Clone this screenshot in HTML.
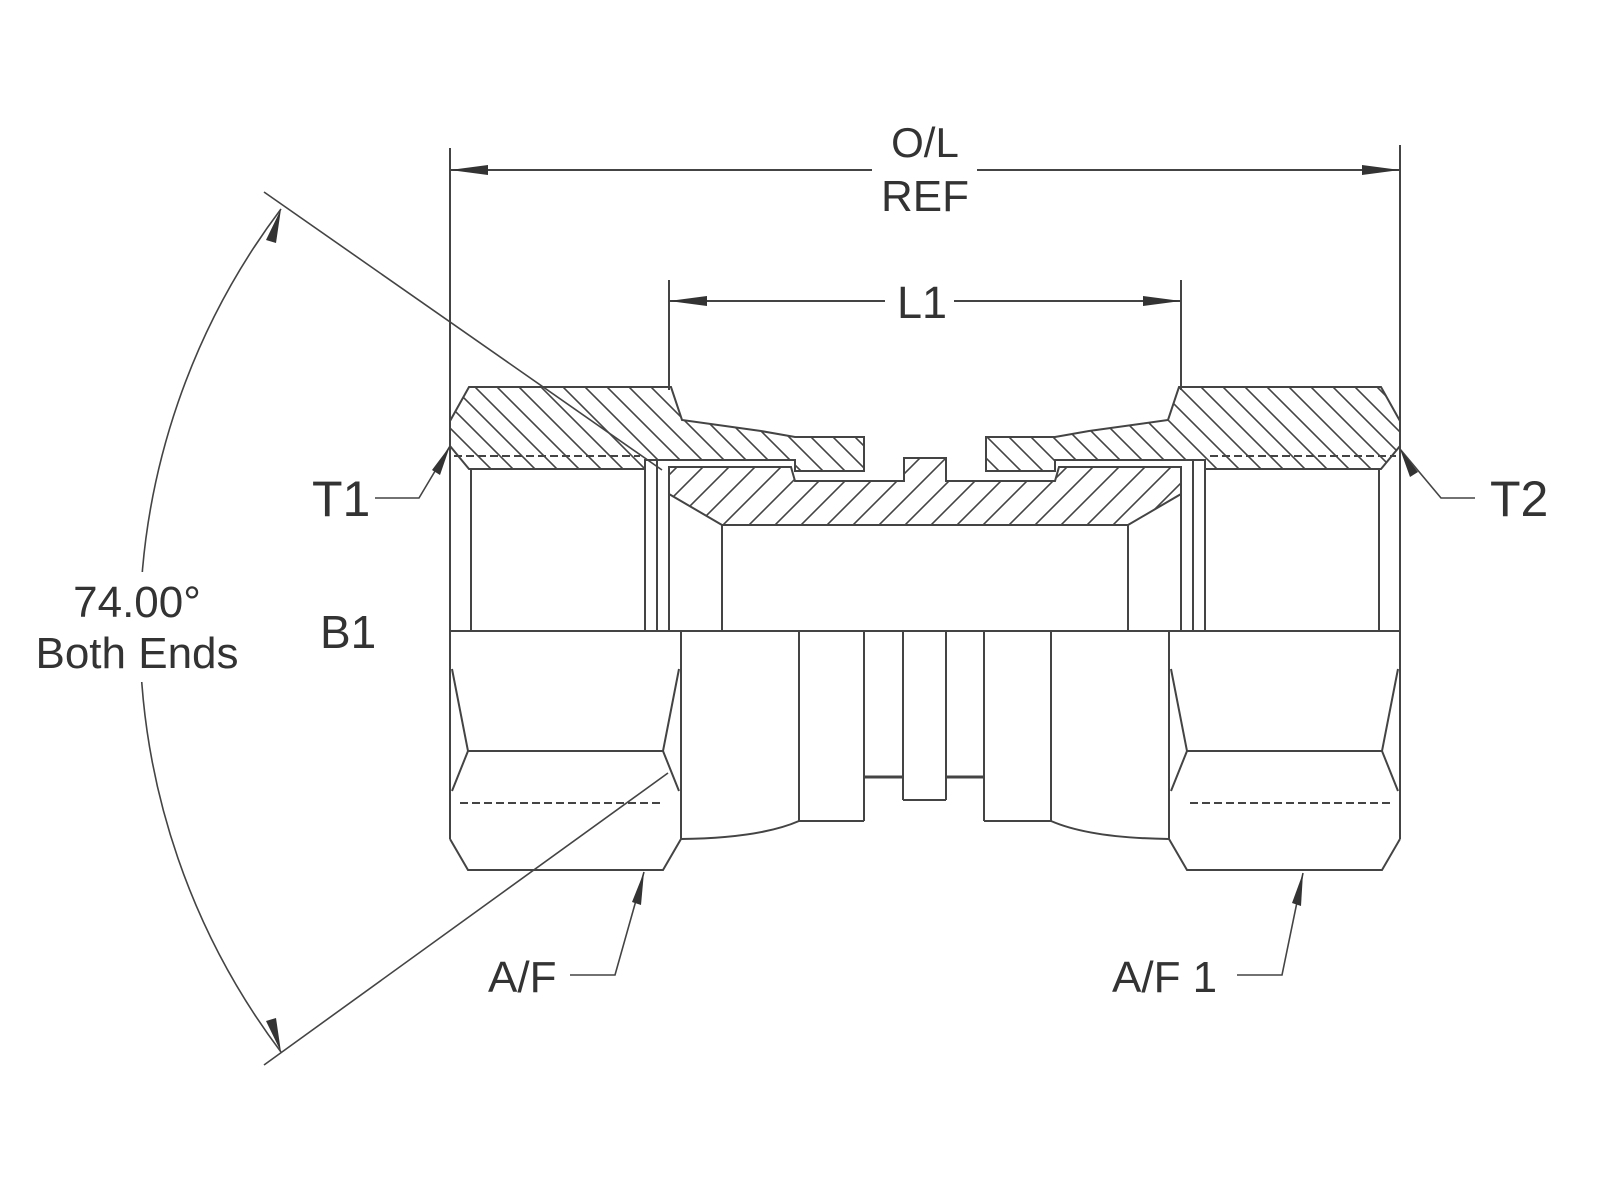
<!DOCTYPE html>
<html><head><meta charset="utf-8"><style>
html,body{margin:0;padding:0;background:#fff;}
svg{display:block;}
text{font-family:"Liberation Sans",sans-serif;fill:#333;}
</style></head><body>
<svg width="1600" height="1200" viewBox="0 0 1600 1200" xmlns="http://www.w3.org/2000/svg">
<defs>
<pattern id="hA" patternUnits="userSpaceOnUse" width="22" height="22">
<path d="M-5,-5 L27,27 M-5,17 L5,27 M17,-5 L27,5" stroke="#444" stroke-width="1.6"/>
</pattern>
<pattern id="hB" patternUnits="userSpaceOnUse" width="26" height="26">
<path d="M-5,31 L31,-5 M-5,5 L5,-5 M21,31 L31,21" stroke="#444" stroke-width="1.6"/>
</pattern>
</defs>
<rect width="1600" height="1200" fill="#fff"/>
<g stroke="#444" stroke-width="2" fill="none">

<!-- O/L dimension -->
<line x1="450" y1="148" x2="450" y2="632"/>
<line x1="1400" y1="145" x2="1400" y2="632"/>
<line x1="450" y1="170" x2="872" y2="170"/>
<line x1="977" y1="170" x2="1400" y2="170"/>
<!-- L1 -->
<line x1="669" y1="280" x2="669" y2="390"/>
<line x1="1181" y1="280" x2="1181" y2="390"/>
<line x1="669" y1="301" x2="885" y2="301"/>
<line x1="954" y1="301" x2="1181" y2="301"/>

<!-- top left nut/sleeve -->
<polygon fill="url(#hA)" points="450,421 469,387 671,387 682,420 761,431 795,437 864,437 864,471 795,471 795,460 645,460 645,469 469,469 450,446"/>
<!-- top right nut/sleeve mirrored -->
<polygon fill="url(#hA)" points="1400,421 1381,387 1179,387 1168,420 1089,431 1055,437 986,437 986,471 1055,471 1055,460 1205,460 1205,469 1381,469 1400,446"/>
<line x1="454" y1="456" x2="640" y2="456" stroke-dasharray="8,4"/>
<line x1="1210" y1="456" x2="1396" y2="456" stroke-dasharray="8,4"/>

<!-- body -->
<polygon fill="url(#hB)" points="669,467 791,467 795,481 904,481 904,458 946,458 946,481 1055,481 1059,467 1181,467 1181,494 1128,525 722,525 669,494"/>
<line x1="657" y1="460" x2="657" y2="632"/>
<line x1="1193" y1="460" x2="1193" y2="632"/>
<line x1="669" y1="467" x2="669" y2="632"/>
<line x1="1181" y1="467" x2="1181" y2="632"/>
<line x1="722" y1="525" x2="722" y2="632"/>
<line x1="1128" y1="525" x2="1128" y2="632"/>
<line x1="471" y1="469" x2="471" y2="632"/>
<line x1="645" y1="469" x2="645" y2="632"/>
<line x1="1379" y1="469" x2="1379" y2="632"/>
<line x1="1205" y1="469" x2="1205" y2="632"/>

<!-- centerline -->
<line x1="450" y1="631" x2="1400" y2="631"/>

<!-- lower left hex nut -->
<line x1="450" y1="631" x2="450" y2="839"/>
<line x1="681" y1="631" x2="681" y2="839"/>
<polyline points="452,669 468,751 452,791"/>
<polyline points="679,669 663,751 679,791"/>
<line x1="468" y1="751" x2="663" y2="751"/>
<line x1="460" y1="803" x2="660" y2="803" stroke-dasharray="8,4"/>
<polyline points="450,839 468,870 663,870 681,839"/>
<!-- lower right hex nut -->
<line x1="1400" y1="631" x2="1400" y2="839"/>
<line x1="1169" y1="631" x2="1169" y2="839"/>
<polyline points="1398,669 1382,751 1398,791"/>
<polyline points="1171,669 1187,751 1171,791"/>
<line x1="1382" y1="751" x2="1187" y2="751"/>
<line x1="1390" y1="803" x2="1190" y2="803" stroke-dasharray="8,4"/>
<polyline points="1400,839 1382,870 1187,870 1169,839"/>

<!-- lower body -->
<path d="M681,839 Q760,838 799,821 L864,821"/>
<path d="M1169,839 Q1090,838 1051,821 L984,821"/>
<line x1="799" y1="631" x2="799" y2="821"/>
<line x1="1051" y1="631" x2="1051" y2="821"/>
<line x1="864" y1="631" x2="864" y2="821"/>
<line x1="984" y1="631" x2="984" y2="821"/>
<line x1="903" y1="631" x2="903" y2="800"/>
<line x1="946" y1="631" x2="946" y2="800"/>
<line x1="903" y1="800" x2="946" y2="800"/>
<line x1="864" y1="777" x2="903" y2="777" stroke-width="3"/>
<line x1="946" y1="777" x2="984" y2="777" stroke-width="3"/>

<!-- angle lines -->
<line x1="264" y1="192" x2="662" y2="470" stroke-width="1.6"/>
<line x1="264" y1="1065" x2="668" y2="773" stroke-width="1.6"/>
<path d="M281,209 A700,700 0 0 0 281,1052" stroke-width="1.6"/>

<!-- leaders -->
<polyline points="375,498 419,498 450,446" stroke-width="1.6"/>
<polyline points="1475,498 1441,498 1400,449" stroke-width="1.6"/>
<polyline points="570,975 615,975 644,872" stroke-width="1.6"/>
<polyline points="1237,975 1282,975 1303,873" stroke-width="1.6"/>
</g>

<!-- arrowheads -->
<g fill="#333">
<polygon points="450,170 488,165 488,175"/>
<polygon points="1400,170 1362,165 1362,175"/>
<polygon points="669,301 707,296 707,306"/>
<polygon points="1181,301 1143,296 1143,306"/>
<polygon points="281,209 266,240 276,243"/>
<polygon points="281,1052 266,1021 276,1018"/>
<polygon points="450,446 432,470 440,475"/>
<polygon points="1400,449 1418,472 1410,477"/>
<polygon points="644,872 632,902 641,905"/>
<polygon points="1303,873 1292,903 1301,906"/>
</g>

<rect x="20" y="572" width="236" height="110" fill="#fff"/>

<text x="925" y="157" font-size="42" text-anchor="middle">O/L</text>
<text x="925" y="211" font-size="44" text-anchor="middle">REF</text>
<text x="922" y="318" font-size="45" text-anchor="middle">L1</text>
<text x="312" y="516" font-size="50">T1</text>
<text x="1490" y="516" font-size="50">T2</text>
<text x="137" y="617" font-size="44" text-anchor="middle">74.00°</text>
<text x="137" y="668" font-size="44" text-anchor="middle">Both Ends</text>
<text x="320" y="648" font-size="46">B1</text>
<text x="488" y="992" font-size="44">A/F</text>
<text x="1112" y="992" font-size="44">A/F 1</text>
</svg>
</body></html>
